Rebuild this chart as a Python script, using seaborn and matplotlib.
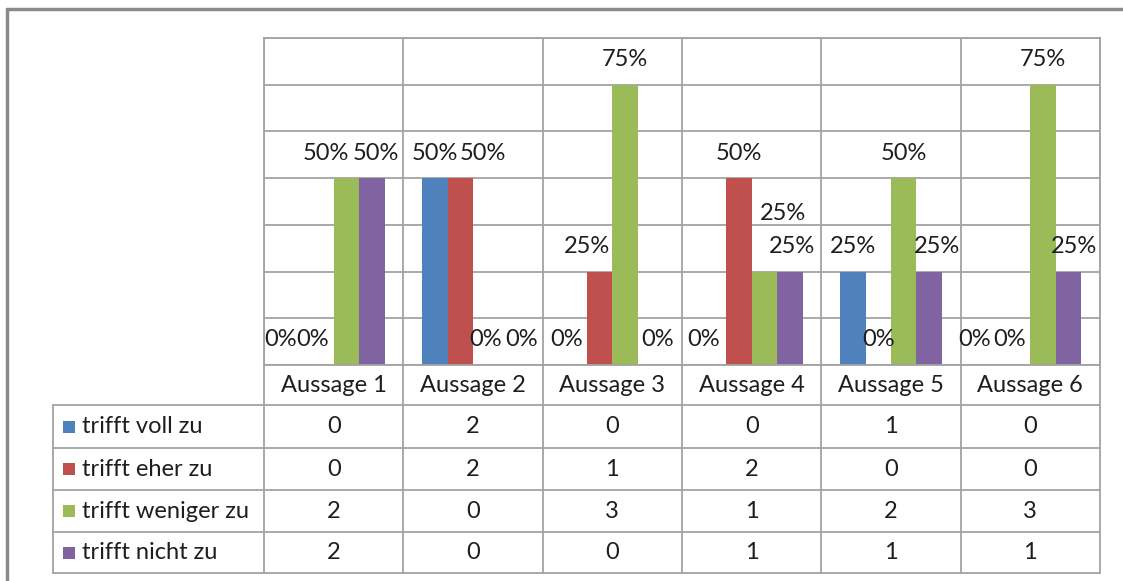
import numpy as np
import pandas as pd
import matplotlib.pyplot as plt
import seaborn as sns
from matplotlib.patches import Rectangle

# ==========================================
# Daten
# ==========================================
aussagen = ["Aussage 1", "Aussage 2", "Aussage 3", "Aussage 4", "Aussage 5", "Aussage 6"]
kategorien = ["trifft voll zu", "trifft eher zu", "trifft weniger zu", "trifft nicht zu"]
voll_zu = [0, 2, 0, 0, 1, 0]
eher_zu = [0, 2, 1, 2, 0, 0]
weniger_zu = [2, 0, 3, 1, 2, 3]
nicht_zu = [2, 0, 0, 1, 1, 1]
farben = ["#4F81BD", "#C0504D", "#9BBB59", "#8064A2"]

anzahl = [voll_zu, eher_zu, weniger_zu, nicht_zu]
summe = np.sum(anzahl, axis=0)

df = pd.DataFrame({
    "Aussage": aussagen * len(kategorien),
    "Kategorie": np.repeat(kategorien, len(aussagen)),
    "Anzahl": np.concatenate(anzahl),
})
df["Anteil"] = df["Anzahl"] / np.tile(summe, len(kategorien))

# Excel schiebt überlappende Beschriftungen etwas auseinander (Pixel)
label_nudge = {
    (0, 0): (-15, 0), (0, 1): (-8, 0), (0, 2): (-21, 0), (0, 3): (4, 0),
    (1, 1): (23, 0), (1, 3): (10, 0),
    (2, 0): (-8, 0), (2, 1): (-13, 0), (2, 3): (7, 0),
    (3, 0): (-10, 0), (3, 2): (19, 33), (3, 3): (2, 0),
    (4, 3): (8, 0),
    (5, 0): (-18, 0), (5, 1): (-8, 0), (5, 3): (6, 0),
}

# ==========================================
# Layout (Pixel)
# ==========================================
W, H = 1123, 581
left, right, top, bottom = 264, 1100, 38, 365
tab_left = 53
row_lines = [405, 448, 490, 532, 573]
grid_col = "#a3a3a3"
text_col = "#1e1e1e"

sns.set_theme(style="white")
plt.rcParams['font.family'] = ['Lato', 'DejaVu Sans']
fs = 17

fig = plt.figure(figsize=(W / 100, H / 100), dpi=100)
fig.patch.set_facecolor("white")

ax = fig.add_axes([left / W, 1 - bottom / H, (right - left) / W, (bottom - top) / H])
sns.barplot(data=df, x="Aussage", y="Anteil", hue="Kategorie", hue_order=kategorien,
            palette=farben, saturation=1, width=0.73, linewidth=0, legend=False, ax=ax)

ax.set_xlim(-0.5, len(aussagen) - 0.5)
ax.set_ylim(0, 0.875)
ax.set_yticks(np.arange(0, 0.876, 0.125))
ax.set_xticks(np.arange(-0.5, len(aussagen)), minor=True)
ax.grid(True, axis="y", which="major", color=grid_col, lw=1.3)
ax.grid(True, axis="x", which="minor", color=grid_col, lw=1.3)
ax.set_axisbelow(True)
ax.tick_params(which="both", length=0, labelbottom=False, labelleft=False)
ax.set_xlabel("")
ax.set_ylabel("")
for s in ax.spines.values():
    s.set_color(grid_col)
    s.set_linewidth(1.3)

# Datenbeschriftungen
for j, cont in enumerate(ax.containers):
    for i, bar in enumerate(cont):
        val = bar.get_height()
        dx, dy = label_nudge.get((i, j), (0, 0))
        ax.annotate(f"{val:.0%}", (bar.get_x() + bar.get_width() / 2, val),
                    xytext=(dx, 25 + dy), textcoords="offset pixels",
                    ha="center", va="center", fontsize=fs, color=text_col)

# ==========================================
# Datentabelle
# ==========================================
tab = fig.add_axes([0, 0, 1, 1], zorder=-1)
tab.set_xlim(0, W)
tab.set_ylim(H, 0)
tab.axis("off")

col_w = (right - left) / len(aussagen)
col_x = [left + k * col_w for k in range(len(aussagen) + 1)]

for y in row_lines:
    tab.plot([tab_left, right], [y, y], color=grid_col, lw=1.3)
tab.plot([tab_left, tab_left], [row_lines[0], row_lines[-1]], color=grid_col, lw=1.3)
for x in col_x:
    tab.plot([x, x], [bottom, row_lines[-1]], color=grid_col, lw=1.3)

for k, name in enumerate(aussagen):
    tab.text(left + (k + 0.5) * col_w, (bottom + row_lines[0]) / 2, name,
             ha="center", va="center", fontsize=fs, color=text_col)

for r, (kat, werte, farbe) in enumerate(zip(kategorien, anzahl, farben)):
    yc = (row_lines[r] + row_lines[r + 1]) / 2
    tab.add_patch(Rectangle((63, yc - 6), 12, 12, color=farbe, lw=0))
    tab.text(82, yc, kat, ha="left", va="center", fontsize=fs, color=text_col)
    for k, v in enumerate(werte):
        tab.text(left + (k + 0.5) * col_w, yc, str(v),
                 ha="center", va="center", fontsize=fs, color=text_col)

# Rahmen oben/links
tab.plot([7, W], [9, 9], color="#8a8a8a", lw=2.5, clip_on=False)
tab.plot([7, 7], [9, H], color="#8a8a8a", lw=2.5, clip_on=False)

plt.savefig("out.png", dpi=100)
plt.close()
